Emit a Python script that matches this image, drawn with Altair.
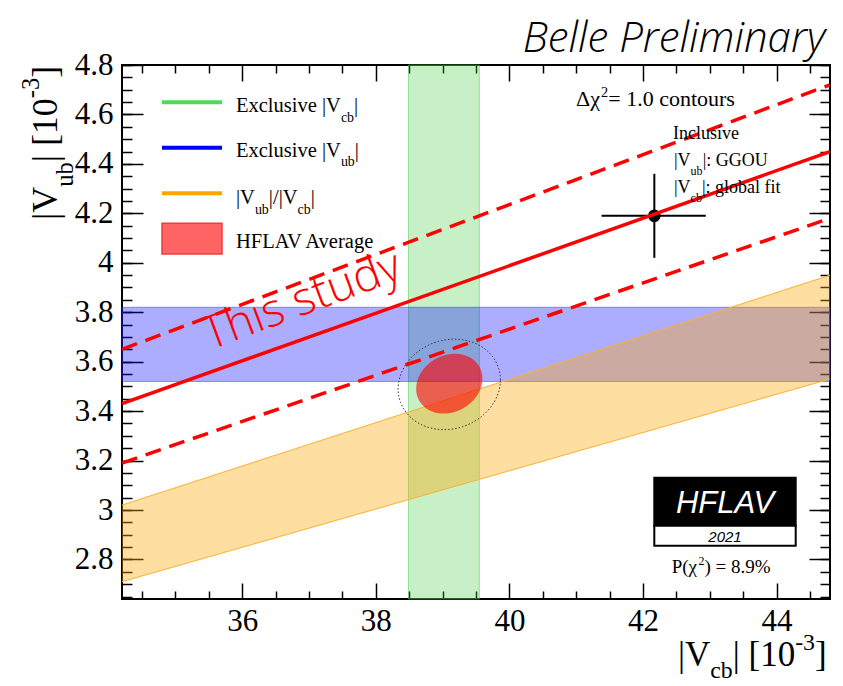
import math
import altair as alt
import pandas as pd

# ---------------- data ----------------
X_DOMAIN = [34.2, 44.8]
Y_DOMAIN = [2.64, 4.8]
X_MAJOR = [36, 38, 40, 42, 44]
X_MINOR = [34.5, 35.0, 35.5, 36.5, 37.0, 37.5, 38.5, 39.0, 39.5, 40.5, 41.0,
           41.5, 42.5, 43.0, 43.5, 44.5]
Y_MAJOR = [2.8, 3.0, 3.2, 3.4, 3.6, 3.8, 4.0, 4.2, 4.4, 4.6, 4.8]
Y_MINOR = [round(2.65 + 0.05 * i, 2) for i in range(44)]

VCB_EXCL = [38.49, 39.55]          # exclusive |Vcb| band
VUB_EXCL = [3.52, 3.82]            # exclusive |Vub| band
RATIO_X = [34.2, 44.8]             # |Vub|/|Vcb| band
RATIO_LO = [2.71, 3.53]
RATIO_HI = [3.02, 3.95]

STUDY_X = [34.2, 44.8]             # this study
STUDY_CENTRAL = [3.43, 4.45]
STUDY_UPPER = [3.65, 4.72]
STUDY_LOWER = [3.19, 4.18]

INCL_VCB = 42.17                   # inclusive point
INCL_VCB_RANGE = [41.38, 42.94]
INCL_VUB = 4.19
INCL_VUB_RANGE = [4.02, 4.36]

HFLAV_CENTER = [39.10, 3.511]      # HFLAV average ellipse
HFLAV_SIGMA = [0.496, 0.121]
HFLAV_RHO = 0.17
CONTOUR_CENTER = [39.10, 3.508]    # dotted contour
CONTOUR_SIGMA = [0.766, 0.183]
CONTOUR_RHO = 0.10

# ---------------- helpers ----------------
W, H = 708, 534
XS = alt.Scale(domain=X_DOMAIN, nice=False, zero=False)
YS = alt.Scale(domain=Y_DOMAIN, nice=False, zero=False)
ONE = pd.DataFrame({"a": [0]})
SERIF = "Liberation Serif"

TW = {' ': .25, '%': .833, '(': .333, ')': .333, '-': .333, '.': .25, '/': .278,
      ':': .278, '=': .564, '[': .333, ']': .333, '|': .2,
      'A': .722, 'E': .611, 'F': .556, 'G': .722, 'H': .722, 'I': .333, 'L': .611,
      'O': .722, 'P': .556, 'U': .722, 'V': .722,
      'a': .444, 'b': .5, 'c': .444, 'd': .5, 'e': .444, 'f': .333, 'g': .5,
      'i': .278, 'l': .278, 'n': .5, 'o': .5, 'r': .333, 's': .389, 't': .278,
      'u': .5, 'v': .5, 'x': .5, 'Δ': .62, 'χ': .52}


def tw(s, size):
    return sum(TW.get(ch, 0.5) for ch in s) * size


def vtext(text, x, y, size, font=SERIF, color="black", align="left", angle=0,
          style="normal", weight="normal"):
    kw = dict(text=text, font=font, fontSize=size, color=color, align=align,
              baseline="alphabetic", fontStyle=style, fontWeight=weight)
    if angle:
        kw["angle"] = angle
    return alt.Chart(ONE).mark_text(**kw).encode(x=alt.value(x), y=alt.value(y))


def rich(parts, x0, y0, size, sub_scale=0.68, sub_drop=0.45, sup_rise=0.45, angle=0):
    out, pos = [], 0.0
    for text, kind in parts:
        fs = size if kind == "n" else size * sub_scale
        shift = 0 if kind == "n" else (size * sub_drop if kind == "sub" else -size * sup_rise)
        if angle == 0:
            x, y = x0 + pos, y0 + shift
        else:
            x, y = x0 + shift, y0 - pos
        if text.strip():
            out.append(vtext(text.strip() if kind != "n" else text, x, y, fs, angle=angle))
        pos += tw(text, fs)
    return out


def vrect(x1, x2, y1, y2, fill, stroke=None, sw=0):
    kw = dict(fill=fill)
    if stroke:
        kw.update(stroke=stroke, strokeWidth=sw)
    return alt.Chart(ONE).mark_rect(**kw).encode(
        x=alt.value(x1), x2=alt.value(x2), y=alt.value(y1), y2=alt.value(y2))


def vrule(x1, x2, y, color, sw):
    return alt.Chart(ONE).mark_rule(color=color, strokeWidth=sw).encode(
        x=alt.value(x1), x2=alt.value(x2), y=alt.value(y))


layers = []

# ---------------- bands ----------------
green = pd.DataFrame({"x": [VCB_EXCL[0]], "x2": [VCB_EXCL[1]],
                      "y": [Y_DOMAIN[0]], "y2": [Y_DOMAIN[1]]})
layers.append(alt.Chart(green).mark_rect(fill="#44cc44", fillOpacity=0.3,
                                         stroke="#44cc44", strokeOpacity=0.5,
                                         strokeWidth=1).encode(
    x=alt.X("x:Q", scale=XS, axis=None), x2="x2:Q",
    y=alt.Y("y:Q", scale=YS, axis=None), y2="y2:Q"))

blue = pd.DataFrame({"x": [X_DOMAIN[0]], "x2": [X_DOMAIN[1]],
                     "y": [VUB_EXCL[0]], "y2": [VUB_EXCL[1]]})
layers.append(alt.Chart(blue).mark_rect(fill="#0000ff", fillOpacity=0.32,
                                        stroke="#3333ff", strokeOpacity=0.5,
                                        strokeWidth=1).encode(
    x=alt.X("x:Q", scale=XS, axis=None), x2="x2:Q",
    y=alt.Y("y:Q", scale=YS, axis=None), y2="y2:Q"))

ratio = pd.DataFrame({"x": RATIO_X, "lo": RATIO_LO, "hi": RATIO_HI})
layers.append(alt.Chart(ratio).mark_area(color="#ffa500", opacity=0.37, clip=True).encode(
    x=alt.X("x:Q", scale=XS, axis=None),
    y=alt.Y("lo:Q", scale=YS, axis=None), y2="hi:Q"))
for col in ["lo", "hi"]:
    layers.append(alt.Chart(ratio).mark_line(color="#ffb030", strokeWidth=1, clip=True).encode(
        x=alt.X("x:Q", scale=XS, axis=None), y=alt.Y(f"{col}:Q", scale=YS, axis=None)))

# ---------------- HFLAV ellipse + dotted contour ----------------
phi = math.acos(HFLAV_RHO)
layers.append(alt.Chart(alt.sequence(0, 181, 2, as_="deg")).transform_calculate(
    t="datum.deg * PI / 180",
    ex=f"{HFLAV_CENTER[0]} + {HFLAV_SIGMA[0]} * cos(datum.t)",
    eyu=f"{HFLAV_CENTER[1]} + {HFLAV_SIGMA[1]} * cos(datum.t - {phi})",
    eyl=f"{HFLAV_CENTER[1]} + {HFLAV_SIGMA[1]} * cos(datum.t + {phi})",
).mark_area(color="#ff0000", opacity=0.6).encode(
    x=alt.X("ex:Q", scale=XS, axis=None),
    y=alt.Y("eyu:Q", scale=YS, axis=None), y2="eyl:Q"))

phi2 = math.acos(CONTOUR_RHO)
layers.append(alt.Chart(alt.sequence(0, 363, 3, as_="deg")).transform_calculate(
    t="datum.deg * PI / 180",
    ex=f"{CONTOUR_CENTER[0]} + {CONTOUR_SIGMA[0]} * cos(datum.t)",
    ey=f"{CONTOUR_CENTER[1]} + {CONTOUR_SIGMA[1]} * cos(datum.t - {phi2})",
).mark_line(color="#333333", strokeWidth=1, strokeDash=[1.5, 2]).encode(
    x=alt.X("ex:Q", scale=XS, axis=None),
    y=alt.Y("ey:Q", scale=YS, axis=None),
    order="deg:Q"))

# ---------------- inclusive point ----------------
incl_h = pd.DataFrame({"x": [INCL_VCB_RANGE[0]], "x2": [INCL_VCB_RANGE[1]], "y": [INCL_VUB]})
incl_v = pd.DataFrame({"x": [INCL_VCB], "y": [INCL_VUB_RANGE[0]], "y2": [INCL_VUB_RANGE[1]]})
incl_p = pd.DataFrame({"x": [INCL_VCB], "y": [INCL_VUB]})
layers.append(alt.Chart(incl_h).mark_rule(color="black", strokeWidth=2).encode(
    x=alt.X("x:Q", scale=XS, axis=None), x2="x2:Q", y=alt.Y("y:Q", scale=YS, axis=None)))
layers.append(alt.Chart(incl_v).mark_rule(color="black", strokeWidth=2).encode(
    x=alt.X("x:Q", scale=XS, axis=None), y=alt.Y("y:Q", scale=YS, axis=None), y2="y2:Q"))
layers.append(alt.Chart(incl_p).mark_point(filled=True, shape="circle", size=160,
                                           color="black", opacity=1).encode(
    x=alt.X("x:Q", scale=XS, axis=None), y=alt.Y("y:Q", scale=YS, axis=None)))

# ---------------- this study ----------------
for vals, dash in [(STUDY_CENTRAL, None), (STUDY_UPPER, [16, 9]), (STUDY_LOWER, [16, 9])]:
    df = pd.DataFrame({"x": STUDY_X, "y": vals})
    kw = dict(color="#ff0000", strokeWidth=3.5, clip=True)
    if dash:
        kw["strokeDash"] = dash
    layers.append(alt.Chart(df).mark_line(**kw).encode(
        x=alt.X("x:Q", scale=XS, axis=None), y=alt.Y("y:Q", scale=YS, axis=None)))

layers.append(vtext("This study", 185, 249, 46, font="Open Sans", color="#ff0000",
                    align="center", angle=339.6, weight=300))

# ---------------- legend ----------------
layers.append(vrule(40, 100, 37.3, "#55d655", 4))
layers.append(vrule(40, 100, 82.7, "#0000ff", 4))
layers.append(vrule(40, 100, 128.3, "#ffa500", 4))
layers.append(vrect(40, 100, 158.3, 189, "#ff6464", "#f03c3c", 1.5))
LS = 20.5
layers += rich([("Exclusive |V", "n"), ("cb", "sub"), ("|", "n")], 114, 47.3, LS, sub_drop=0.47)
layers += rich([("Exclusive |V", "n"), ("ub", "sub"), ("|", "n")], 114, 91.7, LS, sub_drop=0.47)
layers += rich([("|V", "n"), ("ub", "sub"), ("|/|V", "n"), ("cb", "sub"), ("|", "n")],
               114, 139, LS, sub_drop=0.47)
layers.append(vtext("HFLAV Average", 114, 183.3, LS))

# ---------------- annotations ----------------
layers += rich([("Δχ", "n"), ("2", "sup"), (" = 1.0 contours", "n")], 454, 40.7, 22,
               sup_rise=0.41, sub_scale=0.65)
layers.append(vtext("Inclusive", 551, 74.3, 18))
layers += rich([("|V", "n"), ("ub", "sub"), ("|: GGOU", "n")], 552, 101, 18,
               sub_drop=0.5, sub_scale=0.67)
layers += rich([("|V", "n"), ("cb", "sub"), ("|: global fit", "n")], 552, 128.3, 18,
               sub_drop=0.5, sub_scale=0.67)
layers += rich([("P(χ", "n"), ("2", "sup"), (") = 8.9%", "n")], 549.7, 507.7, 19,
               sup_rise=0.42, sub_scale=0.63)

# HFLAV logo
layers.append(vrect(532.3, 673.7, 412.7, 460.7, "black", "black", 2))
layers.append(vrect(532.3, 673.7, 460.7, 480.7, "white", "black", 2))
layers.append(vtext("HFLAV", 603, 448.3, 31, font="Liberation Sans", color="white",
                    align="center", style="italic"))
layers.append(vtext("2021", 603, 476.7, 15, font="Liberation Sans", align="center",
                    style="italic"))

# ---------------- titles ----------------
layers.append(vtext("Belle Preliminary", 703, -13, 42, font="Open Sans", align="right",
                    style="italic", weight=300))
layers += rich([("|V", "n"), ("cb", "sub"), ("| [10", "n"), ("-3", "sup"), ("]", "n")],
               556, 601, 35, sub_drop=0.34, sup_rise=0.46)
layers += rich([("|V", "n"), ("ub", "sub"), ("| [10", "n"), ("-3", "sup"), ("]", "n")],
               -65, 155, 36, sub_drop=0.44, sup_rise=0.49, angle=270)

# ---------------- axes (ROOT style, ticks inside) ----------------
AX = pd.DataFrame({"x": [X_DOMAIN[0]], "y": [Y_DOMAIN[0]]})
common = dict(domain=False, grid=False, title=None, tickColor="black", tickWidth=1.5,
              labelFlush=False, labelOverlap=False)


def xaxis(orient, values, size, labels):
    extra = dict(labels=labels)
    if labels:
        extra.update(labelFont=SERIF, labelFontSize=31, labelColor="black", labelPadding=7,
                     labelExpr="datum.value + ''")
    ax = alt.Axis(orient=orient, values=values, tickSize=size, offset=-size, **common, **extra)
    return alt.Chart(AX).mark_point(opacity=0).encode(
        x=alt.X("x:Q", scale=XS, axis=ax), y=alt.Y("y:Q", scale=YS, axis=None))


def yaxis(orient, values, size, labels):
    extra = dict(labels=labels)
    if labels:
        extra.update(labelFont=SERIF, labelFontSize=31, labelColor="black", labelPadding=9,
                     labelExpr="datum.value + ''")
    ax = alt.Axis(orient=orient, values=values, tickSize=size, offset=-size, **common, **extra)
    return alt.Chart(AX).mark_point(opacity=0).encode(
        x=alt.X("x:Q", scale=XS, axis=None), y=alt.Y("y:Q", scale=YS, axis=ax))


layers += [xaxis("bottom", X_MAJOR, 16, True), xaxis("bottom", X_MINOR, 8, False),
           xaxis("top", X_MAJOR, 16, False), xaxis("top", X_MINOR, 8, False),
           yaxis("left", Y_MAJOR, 21, True), yaxis("left", Y_MINOR, 10, False),
           yaxis("right", Y_MAJOR, 21, False), yaxis("right", Y_MINOR, 10, False)]

chart = alt.layer(*layers).properties(
    width=W, height=H,
    autosize=alt.AutoSizeParams(type="none"),
    padding={"left": 114, "top": 57, "right": 5, "bottom": 85},
).resolve_axis(x="independent", y="independent").configure(
    background="white"
).configure_axis(labelFont=SERIF).configure_view(stroke="black", strokeWidth=2)

chart.save("out.html", embed_options={"renderer": "svg", "actions": False})
